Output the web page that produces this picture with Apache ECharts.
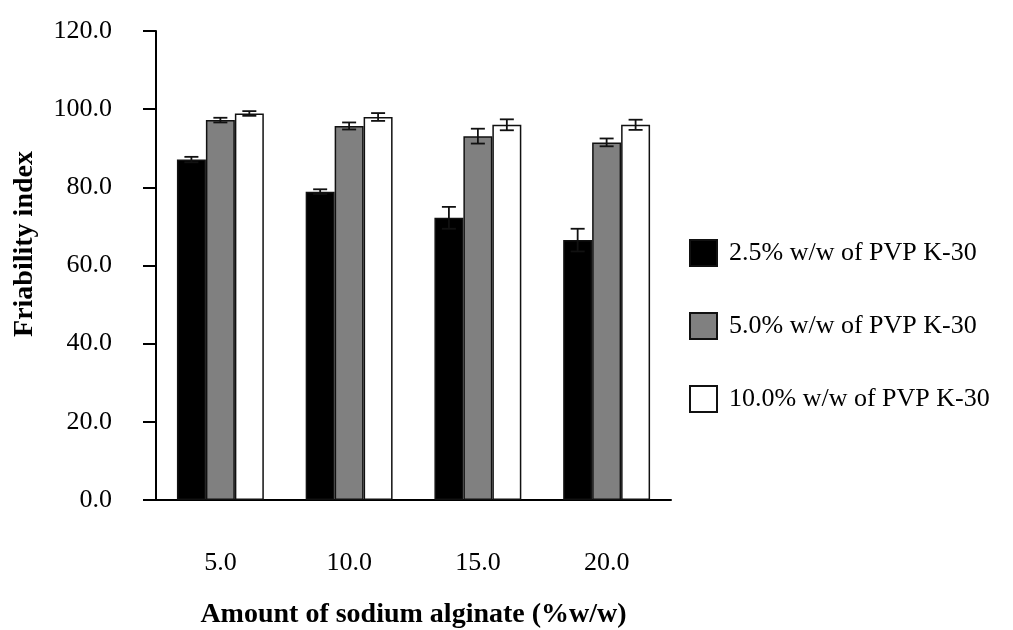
<!DOCTYPE html>
<html lang="en">
<head>
    <meta charset="utf-8" />
    <title>Friability index</title>
    <script src="https://cdn.jsdelivr.net/npm/echarts@6/dist/echarts.min.js"></script>
    <style>
        html, body { margin: 0; padding: 0; background: #fff; }
    </style>
</head>
<body>
<div id="main" style="width: 1013px;height:630px;"></div>
<script type="text/javascript">
    // amount of sodium alginate (%w/w)
    var categories = ['5.0', '10.0', '15.0', '20.0'];
    var seriesNames = ['2.5% w/w of PVP K-30', '5.0% w/w of PVP K-30', '10.0% w/w of PVP K-30'];
    // friability index
    var pvp25 = [87.1, 78.9, 72.2, 66.5];
    var pvp50 = [97.2, 95.7, 93.1, 91.5];
    var pvp100 = [98.9, 98.0, 96.0, 96.0];
    // error bars (+/-)
    var err25 = [0.7, 0.6, 2.8, 2.9];
    var err50 = [0.6, 0.9, 1.9, 1.0];
    var err100 = [0.6, 1.0, 1.4, 1.3];
    var yTicks = [0, 20, 40, 60, 80, 100, 120];

    var font = 'Liberation Serif';
    var colors = ['#000000', '#808080', '#ffffff'];
    var values = [pvp25, pvp50, pvp100];
    var errors = [err25, err50, err100];
    var barPct = 0.225;

    var myChart = echarts.init(document.getElementById('main'), null, {renderer: 'canvas'});

    var series = [];
    values.forEach(function (vals, k) {
        series.push({
            name: seriesNames[k],
            type: 'bar',
            data: vals,
            barWidth: (barPct * 100) + '%',
            barGap: '0%',
            itemStyle: { color: colors[k], borderColor: '#111', borderWidth: 1.5 },
            emphasis: { disabled: true },
            z: 2
        });
    });
    // error bars drawn on top of the bars
    values.forEach(function (vals, k) {
        series.push({
            type: 'custom',
            z: 5,
            silent: true,
            data: vals.map(function (v, i) { return [i, v, errors[k][i]]; }),
            renderItem: function (params, api) {
                var c = api.value(0), v = api.value(1), e = api.value(2);
                var band = api.size([1, 0])[0];
                var dx = band * barPct * (k - 1);
                var hi = api.coord([c, v + e]);
                var lo = api.coord([c, v - e]);
                var x = hi[0] + dx;
                var cap = 7;
                var st = { stroke: '#111', lineWidth: 1.8 };
                return {
                    type: 'group',
                    children: [
                        { type: 'line', shape: { x1: x, y1: hi[1], x2: x, y2: lo[1] }, style: st },
                        { type: 'line', shape: { x1: x - cap, y1: hi[1], x2: x + cap, y2: hi[1] }, style: st },
                        { type: 'line', shape: { x1: x - cap, y1: lo[1], x2: x + cap, y2: lo[1] }, style: st }
                    ]
                };
            }
        });
    });

    var option = {
        animation: false,
        textStyle: { fontFamily: font, color: '#000' },
        grid: { left: 156, right: 342, top: 31, bottom: 130, outerBoundsMode: 'none' },
        legend: {
            data: seriesNames,
            orient: 'vertical',
            left: 684,
            top: 234,
            itemWidth: 27,
            itemHeight: 26,
            itemGap: 45,
            icon: 'rect',
            selectedMode: false,
            textStyle: { fontFamily: font, fontSize: 26, color: '#000', padding: [0, 0, 0, 7] }
        },
        xAxis: {
            type: 'category',
            data: categories,
            name: 'Amount of sodium alginate (%w/w)',
            nameLocation: 'middle',
            nameGap: 101,
            nameTextStyle: { fontFamily: font, fontSize: 28, fontWeight: 'bold', color: '#000' },
            axisLine: { lineStyle: { color: '#000', width: 2 } },
            axisTick: { show: false },
            axisLabel: { fontFamily: font, fontSize: 26, color: '#000', margin: 50 },
            splitLine: { show: false }
        },
        yAxis: {
            type: 'value',
            min: yTicks[0],
            max: yTicks[yTicks.length - 1],
            interval: 20,
            axisLine: { show: true, lineStyle: { color: '#000', width: 2 } },
            axisTick: { show: true, inside: false, length: 13, lineStyle: { color: '#000', width: 2 } },
            axisLabel: {
                fontFamily: font, fontSize: 26, color: '#000', margin: 44,
                formatter: function (v) { return v.toFixed(1); }
            },
            splitLine: { show: false }
        },
        graphic: [
            {
                type: 'text',
                x: 25,
                y: 244,
                rotation: Math.PI / 2,
                style: {
                    text: 'Friability index',
                    fontFamily: font,
                    fontSize: 28,
                    fontWeight: 'bold',
                    fill: '#000',
                    align: 'center',
                    verticalAlign: 'middle'
                }
            }
        ],
        series: series
    };
    myChart.setOption(option);
</script>
</body>
</html>
